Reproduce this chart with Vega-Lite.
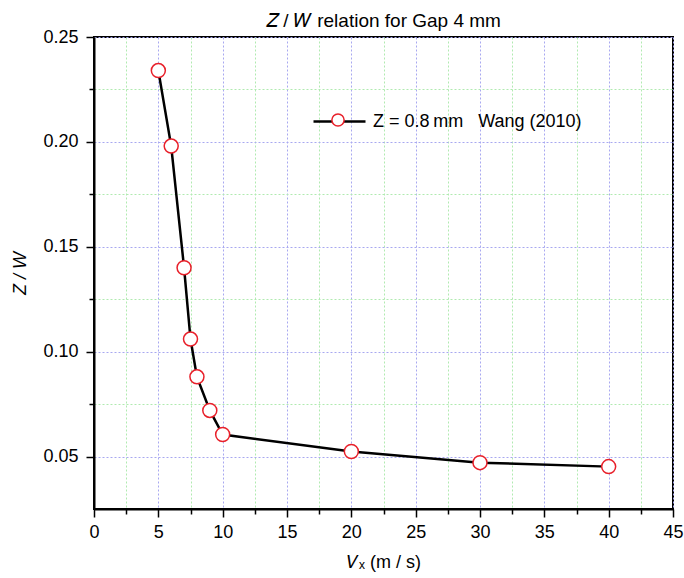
{
  "$schema": "https://vega.github.io/schema/vega-lite/v6.json",
  "width": 579,
  "height": 472,
  "autosize": {"type": "none"},
  "padding": {"left": 94, "top": 37, "right": 11, "bottom": 69},
  "background": "white",
  "title": {"text": "𝑍 / 𝑊 relation for Gap 4 mm", "font": "Liberation Sans", "fontSize": 19, "fontWeight": "normal", "color": "black", "offset": -3, "anchor": "middle"},
  "config": {"view": {"stroke": "black", "strokeWidth": 2}, "font": "Liberation Sans"},
  "data": {"values": [
    {"vx": 5, "zw": 0.234},
    {"vx": 6, "zw": 0.198},
    {"vx": 7, "zw": 0.140},
    {"vx": 7.5, "zw": 0.106},
    {"vx": 8, "zw": 0.088},
    {"vx": 9, "zw": 0.072},
    {"vx": 10, "zw": 0.0605},
    {"vx": 20, "zw": 0.0524},
    {"vx": 30, "zw": 0.0471},
    {"vx": 40, "zw": 0.0452}
  ]},
  "layer": [
    {
      "mark": {"type": "line", "strokeWidth": 2.5},
      "encoding": {
        "x": {"field": "vx", "type": "quantitative", "scale": {"domain": [0, 45], "nice": false, "zero": false},
          "axis": {"orient": "bottom", "values": [0, 5, 10, 15, 20, 25, 30, 35, 40, 45], "grid": true, "gridColor": "#a8a8f0", "gridDash": [2, 2], "gridWidth": 1,
            "tickSize": 8, "tickColor": "black", "tickWidth": 1.5, "domainColor": "black", "domainWidth": 2,
            "labelFontSize": 18, "labelPadding": 6, "labelColor": "black", "labelFlush": false, "labelFont": "Liberation Sans",
            "title": "𝑉ₓ (m / s)", "titleFontSize": 18, "titleFontWeight": "normal", "titleColor": "black", "titlePadding": 12, "titleFont": "Liberation Sans"}},
        "y": {"field": "zw", "type": "quantitative", "scale": {"domain": [0.025, 0.25], "nice": false, "zero": false},
          "axis": {"orient": "left", "values": [0.05, 0.1, 0.15, 0.2, 0.25], "format": ".2f", "grid": true, "gridColor": "#a8a8f0", "gridDash": [2, 2], "gridWidth": 1,
            "tickSize": 8, "tickColor": "black", "tickWidth": 1.5, "domainColor": "black", "domainWidth": 2,
            "labelFontSize": 18, "labelPadding": 8, "labelColor": "black", "labelFlush": false, "labelFont": "Liberation Sans",
            "title": "Z / W", "titleFontSize": 18, "titleFontWeight": "normal", "titleFontStyle": "italic", "titleColor": "black", "titlePadding": 13, "titleFont": "Liberation Sans"}},
        "stroke": {"datum": "Z = 0.8 mm   Wang (2010)", "type": "nominal", "scale": {"range": ["black"]},
          "legend": {"orient": "none", "legendX": 218, "legendY": 57, "title": null, "padding": 0, "symbolType": "stroke", "symbolSize": 2704, "symbolStrokeWidth": 2.5, "symbolStrokeColor": "black",
            "labelFontSize": 18, "labelFont": "Liberation Sans", "labelColor": "black", "labelOffset": 6, "labelLimit": 400,
            "labelExpr": "'Z = 0.8\u2009mm\u00a0\u00a0\u00a0Wang (2010)'"}}
      }
    },
    {
      "mark": {"type": "point", "filled": false, "fill": "white", "fillOpacity": 1, "strokeWidth": 1.5, "size": 196, "opacity": 1},
      "encoding": {
        "x": {"field": "vx", "type": "quantitative",
          "axis": {"orient": "bottom", "values": [2.5, 7.5, 12.5, 17.5, 22.5, 27.5, 32.5, 37.5, 42.5], "grid": true, "gridColor": "#b0eab0", "gridDash": [2, 2], "gridWidth": 1,
            "tickSize": 5, "tickColor": "black", "tickWidth": 1.5, "labels": false, "domain": false, "title": null}},
        "y": {"field": "zw", "type": "quantitative",
          "axis": {"orient": "left", "values": [0.075, 0.125, 0.175, 0.225], "grid": true, "gridColor": "#b0eab0", "gridDash": [2, 2], "gridWidth": 1,
            "tickSize": 5, "tickColor": "black", "tickWidth": 1.5, "labels": false, "domain": false, "title": null}},
        "stroke": {"datum": "marker", "type": "nominal", "scale": {"range": ["#e8202a"]},
          "legend": {"orient": "none", "legendX": 237, "legendY": 76, "title": null, "padding": 0, "symbolType": "circle", "symbolSize": 150, "symbolFillColor": "white", "symbolStrokeWidth": 1.5, "symbolOpacity": 1,
            "labelExpr": "''", "labelFontSize": 1,
            "encode": {"symbols": {"update": {"fill": {"value": "white"}, "fillOpacity": {"value": 1}, "strokeWidth": {"value": 1.5}, "opacity": {"value": 1}}}}}}
      }
    }
  ],
  "resolve": {"axis": {"x": "independent", "y": "independent"}, "scale": {"stroke": "independent"}, "legend": {"stroke": "independent"}}
}
